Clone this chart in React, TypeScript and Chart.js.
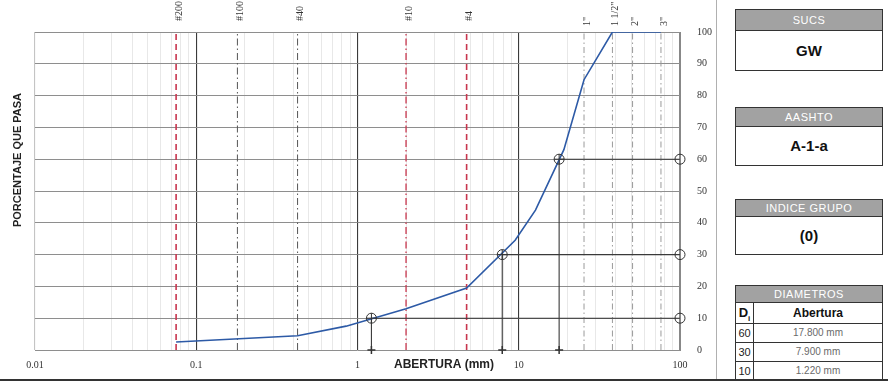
import React, { useEffect, useRef } from 'react';
import { Chart, registerables } from 'chart.js';

Chart.register(...registerables);

// ---- data ----
const sieveSizes = [0.075, 0.425, 0.85, 2.0, 4.75, 9.5, 12.7, 19.05, 25.4, 38.1, 50.8, 76.2];
const percentPassing = [2.5, 4.5, 7.5, 13, 19.5, 34.5, 44, 63, 85, 100, 100, 100];

const refLineLabels = ['#200', '#100', '#40', '#10', '#4', '1"', '1 1/2"', '2"', '3"'];
const refLineSizes = [0.075, 0.18, 0.425, 2.0, 4.75, 25.4, 38.1, 50.8, 76.2];
const refLineKinds = ['red', 'gray', 'gray', 'redDot', 'red', 'light', 'light', 'light', 'light'];

const dLabels = ['60', '30', '10'];
const dPercents = [60, 30, 10];
const dSizes = [17.8, 7.9, 1.22];
const dTexts = ['17.800 mm', '7.900 mm', '1.220 mm'];

const xDecades = [0.01, 0.1, 1, 10, 100];
const xMinorMultipliers = [2, 3, 4, 5, 6, 7, 8, 9];

const sucs = 'GW';
const aashto = 'A-1-a';
const indiceGrupo = '(0)';

const SERIF = '"Liberation Serif", "DejaVu Serif", serif';
const SANS = '"Liberation Sans", Arial, sans-serif';

const lineStyles: Record<string, { color: string; dash: number[]; width: number }> = {
  red: { color: '#c8364e', dash: [6, 4], width: 1.6 },
  redDot: { color: '#c8364e', dash: [7, 3, 1.5, 3], width: 1.3 },
  gray: { color: '#555555', dash: [7, 3, 1.5, 3], width: 1 },
  light: { color: '#9a9a9a', dash: [6, 3, 1.5, 3], width: 1 },
};

function buildXGrid(): number[] {
  const vals: number[] = [];
  xDecades.forEach((d, i) => {
    vals.push(d);
    if (i < xDecades.length - 1) {
      xMinorMultipliers.forEach((m) => vals.push(parseFloat((d * m).toPrecision(6))));
    }
  });
  return vals;
}

const labelsPlugin = {
  id: 'extraLabels',
  afterDraw(chart: any) {
    const ctx = chart.ctx as CanvasRenderingContext2D;
    const xs = chart.scales.x;
    ctx.save();
    ctx.fillStyle = '#333';
    ctx.font = `10px ${SERIF}`;
    ctx.textAlign = 'left';
    ctx.textBaseline = 'middle';
    refLineSizes.forEach((s, i) => {
      const px = xs.getPixelForValue(s);
      const label = refLineLabels[i];
      const baseY = label.startsWith('#') ? 21 : 26;
      ctx.save();
      ctx.translate(px + 3, baseY);
      ctx.rotate(-Math.PI / 2);
      ctx.fillText(label, 0, 0);
      ctx.restore();
    });
    // y title (left)
    ctx.font = `bold 11px ${SANS}`;
    ctx.fillStyle = '#222';
    ctx.textAlign = 'center';
    ctx.save();
    ctx.translate(18, 160);
    ctx.rotate(-Math.PI / 2);
    ctx.fillText('PORCENTAJE QUE PASA', 0, 0);
    ctx.restore();
    // x title
    ctx.font = `bold 12px ${SANS}`;
    ctx.fillText('ABERTURA (mm)', 444, 365);
    ctx.restore();
  },
};

function ChartCanvas() {
  const ref = useRef<HTMLCanvasElement | null>(null);
  useEffect(() => {
    if (!ref.current) return;
    const xGrid = buildXGrid();
    const isDecade = (v: number) => xDecades.some((d) => Math.abs(d - v) < d * 1e-6);

    const curve = sieveSizes.map((s, i) => ({ x: s, y: percentPassing[i] }));
    const dPoints = dSizes.map((s, i) => ({ x: s, y: dPercents[i] }));
    const rightPoints = dPercents.map((p) => ({ x: 100, y: p }));
    const bottomPoints = dSizes.map((s) => ({ x: s, y: 0 }));

    const markerBase = {
      type: 'line' as const,
      showLine: false,
      borderColor: '#333',
      backgroundColor: 'rgba(0,0,0,0)',
      pointBorderColor: '#333',
      pointBackgroundColor: 'rgba(0,0,0,0)',
      pointBorderWidth: 1,
      clip: false as any,
    };

    const datasets: any[] = [
      { ...markerBase, data: dPoints, pointStyle: 'circle', pointRadius: 5 },
      { ...markerBase, data: dPoints, pointStyle: 'cross', pointRadius: 5 },
      { ...markerBase, data: rightPoints, pointStyle: 'circle', pointRadius: 5 },
      { ...markerBase, data: bottomPoints, pointStyle: 'cross', pointRadius: 4, pointBorderWidth: 1.5 },
      {
        type: 'line',
        data: curve,
        borderColor: '#2d5aa6',
        borderWidth: 1.6,
        pointRadius: 0,
        tension: 0,
        fill: false,
      },
    ];
    dSizes.forEach((s, i) => {
      datasets.push({
        type: 'line',
        data: [
          { x: 100, y: dPercents[i] },
          { x: s, y: dPercents[i] },
          { x: s, y: 0 },
        ],
        borderColor: '#3a3a3a',
        borderWidth: 1.1,
        pointRadius: 0,
        fill: false,
      });
    });
    refLineSizes.forEach((s, i) => {
      const st = lineStyles[refLineKinds[i]];
      datasets.push({
        type: 'line',
        data: [
          { x: s, y: 0 },
          { x: s, y: 100 },
        ],
        borderColor: st.color,
        borderDash: st.dash,
        borderWidth: st.width,
        pointRadius: 0,
        fill: false,
      });
    });

    const chart = new Chart(ref.current, {
      type: 'line',
      data: { datasets },
      plugins: [labelsPlugin],
      options: {
        animation: false,
        responsive: false,
        maintainAspectRatio: false,
        layout: { padding: { left: 35, top: 32, right: 0, bottom: 0 } },
        plugins: { legend: { display: false }, tooltip: { enabled: false } },
        scales: {
          x: {
            type: 'logarithmic',
            position: 'bottom',
            min: 0.01,
            max: 100,
            afterBuildTicks: (s: any) => {
              s.ticks = xGrid.map((v) => ({ value: v }));
            },
            afterFit: (s: any) => {
              s.height = 33;
            },
            ticks: {
              autoSkip: false,
              maxRotation: 0,
              padding: 9,
              color: '#333',
              font: { family: SERIF, size: 10 },
              callback: (v: any) => (isDecade(Number(v)) ? String(Number(v)) : ''),
            },
            grid: {
              drawTicks: false,
              color: (c: any) => {
                const v = c.tick ? c.tick.value : 0;
                if (Math.abs(v - 0.01) < 1e-9) return '#c4c4c4';
                if (Math.abs(v - 100) < 1e-6) return '#888';
                return isDecade(v) ? '#3a3a3a' : '#e8e8e8';
              },
              lineWidth: (c: any) => (c.tick && isDecade(c.tick.value) ? 1.1 : 1),
            },
            border: { display: false },
          } as any,
          y: {
            type: 'linear',
            position: 'right',
            min: 0,
            max: 100,
            afterFit: (s: any) => {
              s.width = 36;
            },
            ticks: {
              stepSize: 10,
              padding: 17,
              color: '#333',
              font: { family: SERIF, size: 10 },
            },
            grid: { drawTicks: false, color: '#8e8e8e', lineWidth: 1 },
            border: { display: true, color: '#888' },
          } as any,
        },
      },
    });
    return () => chart.destroy();
  }, []);
  return <canvas ref={ref} width={716} height={383} style={{ position: 'absolute', left: 0, top: 0, width: 716, height: 383 }} />;
}

const boxStyle: React.CSSProperties = {
  position: 'absolute',
  left: 735,
  width: 148,
  border: '1.5px solid #333',
  boxSizing: 'border-box',
  background: '#fff',
  fontFamily: SANS,
};
const headStyle = (h: number): React.CSSProperties => ({
  height: h,
  background: '#a2a2a2',
  color: '#fff',
  fontSize: 11,
  lineHeight: `${h}px`,
  textAlign: 'center',
  borderBottom: '1.5px solid #333',
  letterSpacing: 0.5,
  boxSizing: 'border-box',
});
const bodyStyle = (h: number): React.CSSProperties => ({
  height: h,
  lineHeight: `${h}px`,
  textAlign: 'center',
  fontWeight: 'bold',
  fontSize: 15,
  color: '#111',
});

function InfoBox({ top, headH, bodyH, title, value }: { top: number; headH: number; bodyH: number; title: string; value: string }) {
  return (
    <div style={{ ...boxStyle, top }}>
      <div style={headStyle(headH)}>{title}</div>
      <div style={bodyStyle(bodyH)}>{value}</div>
    </div>
  );
}

function DiamTable() {
  const cell: React.CSSProperties = { borderTop: '1px solid #333', boxSizing: 'border-box' };
  const rowH = 19;
  return (
    <div style={{ ...boxStyle, top: 285 }}>
      <div style={headStyle(17)}>DIAMETROS</div>
      <div style={{ display: 'flex', height: 20, fontWeight: 'bold', color: '#111' }}>
        <div style={{ width: 17, borderRight: '1px solid #333', textAlign: 'center', lineHeight: '20px', fontSize: 13 }}>
          D<sub style={{ fontSize: 8 }}>i</sub>
        </div>
        <div style={{ flex: 1, textAlign: 'center', lineHeight: '20px', fontSize: 12 }}>Abertura</div>
      </div>
      {dLabels.map((d, i) => (
        <div key={d} style={{ ...cell, display: 'flex', height: rowH }}>
          <div style={{ width: 17, borderRight: '1px solid #333', textAlign: 'center', lineHeight: `${rowH - 1}px`, fontSize: 11, color: '#222' }}>{d}</div>
          <div style={{ flex: 1, textAlign: 'center', lineHeight: `${rowH - 1}px`, fontSize: 10, color: '#6a6a6a' }}>{dTexts[i]}</div>
        </div>
      ))}
    </div>
  );
}

export default function App() {
  return (
    <div style={{ position: 'absolute', left: 0, top: 0, width: 888, height: 383, background: '#fff', overflow: 'hidden' }}>
      <ChartCanvas />
      <div style={{ position: 'absolute', left: 716, top: 0, width: 1, height: 380, background: '#b0b0b0' }} />
      <InfoBox top={9} headH={21} bodyH={39} title="SUCS" value={sucs} />
      <InfoBox top={107} headH={19} bodyH={38} title="AASHTO" value={aashto} />
      <InfoBox top={199} headH={17} bodyH={37} title="INDICE GRUPO" value={indiceGrupo} />
      <DiamTable />
      <div style={{ position: 'absolute', left: 0, top: 379, width: 888, height: 2, background: '#333' }} />
    </div>
  );
}
